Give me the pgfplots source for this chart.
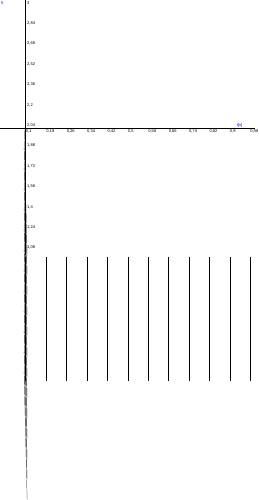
\documentclass[border=0pt]{standalone}
\usepackage{pgfplots}
\pgfplotsset{compat=1.18}
\usepackage{fontspec}
\setmainfont{Liberation Sans}
\begin{document}
\begin{tikzpicture}
\begin{axis}[width=500bp,height=500bp,scale only axis,xmin=0,xmax=1,ymin=1,ymax=3,hide axis,clip=false]
\addplot[draw=none] coordinates {(0.1,2)};
\draw[black] (axis cs:0,2) -- (axis cs:1,2);
\draw[black] (axis cs:0.1,1) -- (axis cs:0.1,3);
\pgfplotsinvokeforeach{0.1,0.18,0.26,0.34,0.42,0.5,0.58,0.66,0.74,0.82,0.9,0.98}{
  \draw (axis cs:#1,2) ++(0,-3bp) -- ++(0,6bp);
  \node[anchor=north west,inner sep=0pt,font=\fontsize{8}{9}\selectfont] at ([xshift=0.5bp,yshift=-3bp]axis cs:#1,2) {\pgfmathprintnumber[use comma,assume math mode=true,precision=2]{#1}};
}
\pgfplotsinvokeforeach{1.08,1.24,1.4,1.56,1.72,1.88,2.04,2.2,2.36,2.52,2.68,2.84,3}{
  \draw (axis cs:0.1,#1) ++(-3bp,0) -- ++(6bp,0);
  \node[anchor=north west,inner sep=0pt,font=\fontsize{8}{9}\selectfont] at ([xshift=3bp,yshift=-2bp]axis cs:0.1,#1) {\pgfmathprintnumber[use comma,assume math mode=true,precision=2]{#1}};
}
\node[anchor=south west,inner sep=0pt,text=blue,font=\fontsize{8}{9}\selectfont] at ([xshift=464bp,yshift=1bp]axis cs:0,2) {t[s]};
\node[anchor=north west,inner sep=0pt,text=blue,font=\fontsize{8}{9}\selectfont] at ([xshift=2bp,yshift=-3bp]axis cs:0,3) {5};
\end{axis}
\end{tikzpicture}
\end{document}
